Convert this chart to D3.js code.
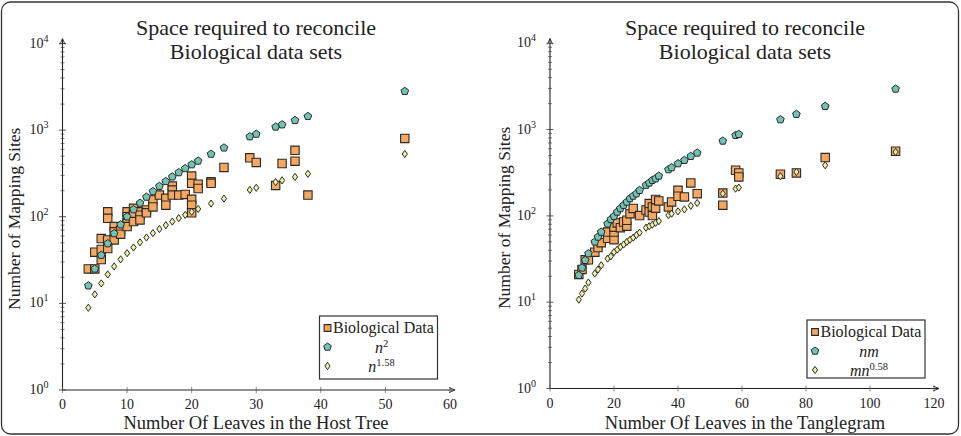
<!DOCTYPE html>
<html>
<head>
<meta charset="utf-8">
<script src="https://cdn.jsdelivr.net/npm/d3@7"></script>
<style>
  body { margin: 0; background: #fff; }
</style>
</head>
<body>
<div class="box"></div>
<script>
// DATA - left panel (host tree)
const hostX = [4, 5, 6, 7, 8, 9, 10, 11, 12, 13, 14, 15, 16, 17, 18, 19, 20, 21, 23, 25, 29, 30, 33, 34, 36, 38, 53];
const hostN2 = [16, 25, 36, 49, 64, 81, 100, 121, 144, 169, 196, 225, 256, 289, 324, 361, 400, 441, 529, 625, 841, 900, 1089, 1156, 1296, 1444, 2809];
const hostN158 = [8.9, 12.7, 17, 21.6, 26.7, 32.2, 38, 44.2, 50.7, 57.6, 64.7, 72.2, 79.9, 87.9, 96.3, 105, 114, 123, 142, 162, 204, 216, 251, 263, 288, 313, 530];
const hostBioX = [4, 5, 5, 6, 6, 6, 7, 7, 7, 7, 8, 8, 8, 9, 9, 10, 10, 10, 10, 11, 11, 11, 12, 12, 12, 13, 13, 14, 14, 15, 16, 16, 17, 17, 17, 18, 19, 20, 20, 20, 20, 20, 21, 21, 23, 23, 25, 29, 30, 33, 34, 36, 36, 38, 53];
const hostBioY = [25, 25, 39, 56, 42, 32, 114, 96, 54, 43, 77, 67, 54, 70, 63, 114, 100, 84, 77, 125, 105, 88, 114, 104, 92, 120, 111, 156, 130, 178, 163, 136, 226, 203, 178, 178, 181, 295, 243, 159, 136, 111, 238, 212, 253, 243, 371, 479, 424, 230, 412, 585, 438, 178, 802];

// DATA - right panel (tanglegram)
const tangX = [9, 10, 11, 12, 14, 15, 16, 18, 19, 20, 21, 22, 23, 24, 25, 26, 27, 28, 30, 31, 32, 33, 34, 37, 38, 40, 42, 44, 46, 54, 58, 59, 72, 77, 86, 108];
const tangNM = [20.5, 25, 30.6, 36.6, 50, 57, 65, 81, 91, 99, 111, 122, 133, 145, 159, 170, 181, 198, 227, 241, 259, 270, 290, 344, 363, 404, 441, 491, 537, 739, 860, 883, 1306, 1507, 1863, 2958];
const tangMN058 = [10.7, 12.6, 14.4, 16.9, 21.5, 23.9, 26.8, 32, 34, 38, 40.7, 43.7, 46.6, 50, 53, 56, 60, 64, 73, 76, 79, 83, 87, 102, 106, 113, 119, 131, 141, 181, 207, 213, 288, 323, 386, 551];
const tangBioX = [9, 10, 11, 12, 14, 15, 16, 18, 18, 20, 20, 20, 21, 22, 23, 24, 24, 25, 26, 28, 30, 31, 31, 32, 32, 33, 33, 34, 37, 38, 40, 40, 42, 44, 46, 54, 54, 58, 59, 59, 72, 77, 86, 108];
const tangBioY = [21, 24, 31, 31, 38, 43, 49, 55, 65, 53, 65, 74, 83, 73, 85, 76, 89, 106, 122, 101, 117, 139, 111, 127, 101, 155, 123, 149, 127, 145, 198, 169, 166, 241, 181, 184, 133, 338, 315, 283, 304, 315, 474, 561];

const yTicks = [1, 10, 100, 1000, 10000];

const panels = [
  {x0: 62.5, x1: 450, xMax: 60, xTicks: [0, 10, 20, 30, 40, 50, 60], y0: 390, y1: 43.5, cx: 256,
   xLabel: 'Number Of Leaves in the Host Tree', ylabX: 20,
   bio: hostBioX.map((x, i) => [x, hostBioY[i]]),
   s2: hostX.map((x, i) => [x, hostN2[i]]),
   s3: hostX.map((x, i) => [x, hostN158[i]]),
   legend: {x: 319.5, y: 316, w: 118, h: 63, lab2: ['n', '2'], lab3: ['n', '1.58']}},
  {x0: 550, x1: 934, xMax: 120, xTicks: [0, 20, 40, 60, 80, 100, 120], y0: 388.5, y1: 43.3, cx: 745,
   xLabel: 'Number Of Leaves in the Tanglegram', ylabX: 510,
   bio: tangBioX.map((x, i) => [x, tangBioY[i]]),
   s2: tangX.map((x, i) => [x, tangNM[i]]),
   s3: tangX.map((x, i) => [x, tangMN058[i]]),
   legend: {x: 807, y: 320, w: 118, h: 58, lab2: ['nm', ''], lab3: ['mn', '0.58']}}
];

const svg = d3.select('.box')
              .append('svg')
              .attr('width', 961)
              .attr('height', 436)
              .attr('font-family', "'Liberation Serif', 'DejaVu Serif', serif")
              .attr('fill', '#222');

// frame
svg.append('rect')
   .attr('x', 1.5).attr('y', 2).attr('width', 957).attr('height', 432)
   .attr('rx', 9)
   .attr('fill', 'none')
   .attr('stroke', '#333')
   .attr('stroke-width', 1.3);

// markers
const pentagon = (r) => {
  const pts = d3.range(5).map(k => {
    const a = -Math.PI / 2 + k * 2 * Math.PI / 5;
    return [r * Math.cos(a), r * Math.sin(a)];
  });
  return 'M' + pts.join('L') + 'Z';
};
const square = (s) => `M${-s},${-s}H${s}V${s}H${-s}Z`;
const diamond = (w, h) => `M0,${-h}L${w},0L0,${h}L${-w},0Z`;

const styles = {
  bio: {d: square(4.2), fill: '#f6a860', stroke: '#2a2a2a', sw: 1.1},
  s2:  {d: pentagon(4), fill: '#72c4b2', stroke: '#2a2a2a', sw: 1},
  s3:  {d: diamond(2.6, 3.6), fill: '#eef0a6', stroke: '#2a2a2a', sw: 1}
};

panels.forEach(p => {
  const x = d3.scaleLinear().domain([0, p.xMax]).range([p.x0, p.x1]);
  const y = d3.scaleLog().domain([1, 10000]).range([p.y0, p.y1]);
  const g = svg.append('g');

  // title
  g.append('text').attr('x', p.cx).attr('y', 35).attr('text-anchor', 'middle')
   .attr('font-size', 22).text('Space required to reconcile');
  g.append('text').attr('x', p.cx).attr('y', 59).attr('text-anchor', 'middle')
   .attr('font-size', 22).text('Biological data sets');

  // y axis line + arrow
  g.append('line').attr('x1', p.x0).attr('x2', p.x0).attr('y1', p.y0).attr('y2', p.y1 - 4)
   .attr('stroke', '#222').attr('stroke-width', 1.1);
  g.append('path').attr('d', `M${p.x0 - 2.5},${p.y1 + 1}L${p.x0},${p.y1 - 5}L${p.x0 + 2.5},${p.y1 + 1}`)
   .attr('fill', 'none').attr('stroke', '#222').attr('stroke-width', 0.9);
  // x axis line + arrow
  g.append('line').attr('x1', p.x0).attr('x2', p.x1 + 4).attr('y1', p.y0).attr('y2', p.y0)
   .attr('stroke', '#222').attr('stroke-width', 1.1);
  g.append('path').attr('d', `M${p.x1 - 1},${p.y0 - 2.5}L${p.x1 + 5},${p.y0}L${p.x1 - 1},${p.y0 + 2.5}`)
   .attr('fill', 'none').attr('stroke', '#222').attr('stroke-width', 0.9);

  // log ticks
  const minor = [];
  [1, 10, 100, 1000].forEach(d => d3.range(2, 10).forEach(k => minor.push(d * k)));
  g.selectAll('.minor').data(minor).enter().append('line')
   .attr('x1', p.x0 - 2).attr('x2', p.x0 + 2)
   .attr('y1', d => y(d)).attr('y2', d => y(d))
   .attr('stroke', '#333').attr('stroke-width', 0.6);
  g.selectAll('.major').data(yTicks).enter().append('line')
   .attr('x1', p.x0 - 3.5).attr('x2', p.x0 + 3.5)
   .attr('y1', d => y(d)).attr('y2', d => y(d))
   .attr('stroke', '#333').attr('stroke-width', 0.8);
  const yl = g.selectAll('.ylab').data(yTicks).enter().append('text')
   .attr('x', p.x0 - 14).attr('y', d => y(d) + 4)
   .attr('text-anchor', 'end').attr('font-size', 14);
  yl.append('tspan').text('10');
  yl.append('tspan').attr('dy', -6).attr('font-size', 10).text(d => Math.round(Math.log10(d)));

  // x ticks
  g.selectAll('.xt').data(p.xTicks).enter().append('line')
   .attr('x1', d => x(d)).attr('x2', d => x(d))
   .attr('y1', p.y0 - 3).attr('y2', p.y0 + 3)
   .attr('stroke', '#555').attr('stroke-width', 0.7);
  g.selectAll('.xl').data(p.xTicks).enter().append('text')
   .attr('x', d => x(d)).attr('y', p.y0 + 19)
   .attr('text-anchor', 'middle').attr('font-size', 14)
   .text(d => d);

  // axis labels
  g.append('text').attr('x', p.cx).attr('y', 429).attr('text-anchor', 'middle')
   .attr('font-size', 18.5).text(p.xLabel);
  g.append('text').attr('transform', `translate(${p.ylabX},${(p.y0 + p.y1) / 2 + 2}) rotate(-90)`)
   .attr('text-anchor', 'middle').attr('font-size', 17.5).text('Number of Mapping Sites');

  // marks (data first, fitted curves on top)
  ['bio', 's2', 's3'].forEach(key => {
    const st = styles[key];
    g.selectAll('.m' + key).data(p[key]).enter().append('path')
     .attr('d', st.d)
     .attr('transform', d => `translate(${x(d[0])},${y(d[1])})`)
     .attr('fill', st.fill).attr('stroke', st.stroke).attr('stroke-width', st.sw);
  });

  // legend
  const L = p.legend;
  const lg = g.append('g').attr('transform', `translate(${L.x},${L.y})`);
  lg.append('rect').attr('width', L.w).attr('height', L.h)
    .attr('fill', '#fff').attr('stroke', '#333').attr('stroke-width', 1.2);
  const rows = [
    {key: 'bio', dy: 12},
    {key: 's2', dy: 31},
    {key: 's3', dy: 50}
  ];
  rows.forEach(r => {
    const st = styles[r.key];
    lg.append('path').attr('d', r.key === 'bio' ? square(3.4) : st.d)
      .attr('transform', `translate(8,${r.dy})`)
      .attr('fill', st.fill).attr('stroke', st.stroke).attr('stroke-width', st.sw);
  });
  lg.append('text').attr('x', 13.5).attr('y', 17).attr('font-size', 16).text('Biological Data');
  [[L.lab2, 37], [L.lab3, 56]].forEach(([lab, ty]) => {
    const t = lg.append('text').attr('x', 62).attr('y', ty)
                .attr('text-anchor', 'middle').attr('font-size', 16);
    t.append('tspan').attr('font-style', 'italic').text(lab[0]);
    if (lab[1]) t.append('tspan').attr('dy', -6).attr('font-size', 10.5).text(lab[1]);
  });
});
</script>
</body>
</html>
